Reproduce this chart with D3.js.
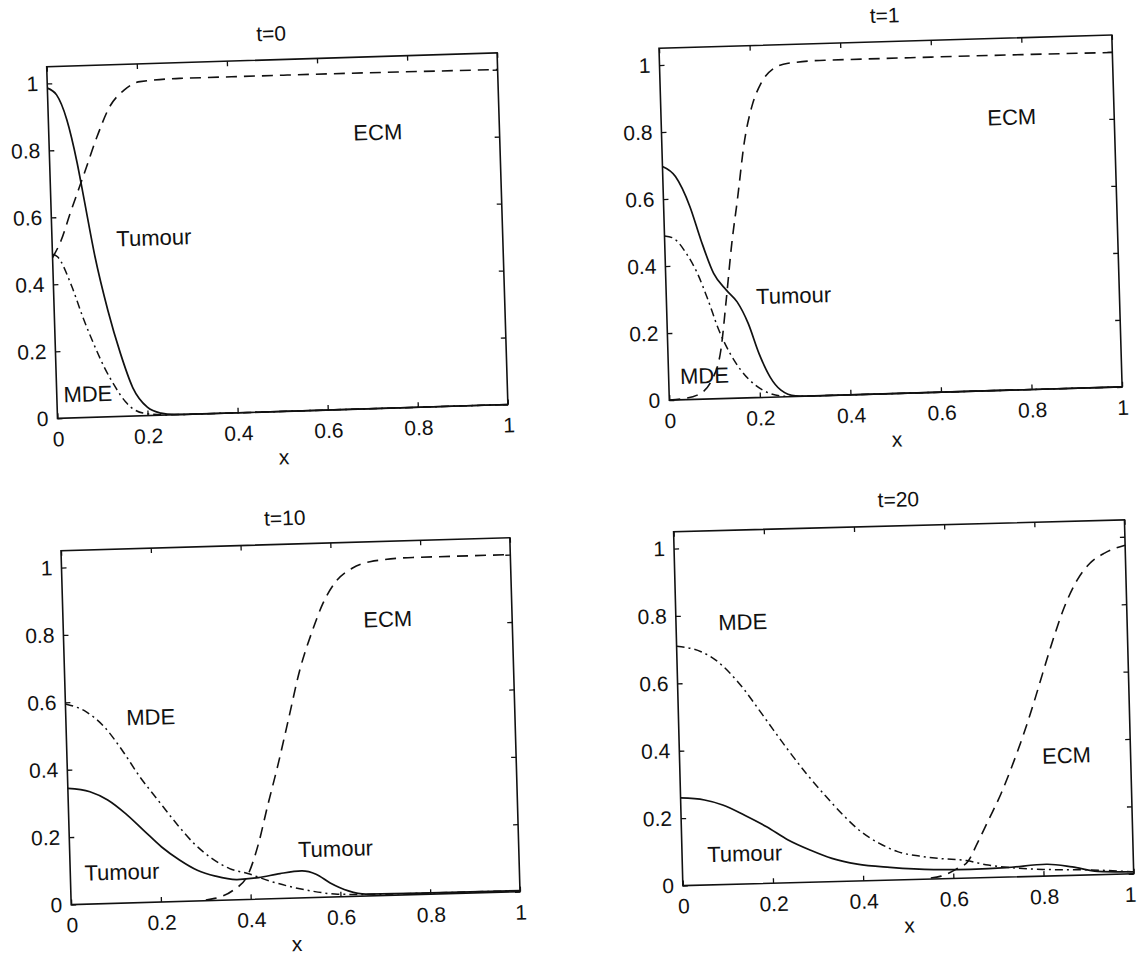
<!DOCTYPE html>
<html>
<head>
<meta charset="utf-8">
<style>
  body { margin: 0; background: #fff; }
  svg { display: block; }
  .tick text, .lbl, .title, .xlab {
    font-family: "Liberation Sans", Arial, Helvetica, sans-serif;
    fill: #111;
  }
</style>
</head>
<body>
<div id="chart"></div>
<script src="https://d3js.org/d3.v7.min.js"></script>
<script>
  // values, [x, value]
  const titles = ['t=0', 't=1', 't=10', 't=20'];
  const tickValues = [0, 0.2, 0.4, 0.6, 0.8, 1];
  const tickLabels = ['0', '0.2', '0.4', '0.6', '0.8', '1'];

  // t=0
  const tumour0 = [[0,0.986],[0.02,0.965],[0.041,0.89],[0.061,0.76],[0.074,0.65],[0.094,0.48],[0.119,0.318],[0.144,0.188],[0.169,0.085],[0.2,0.025],[0.23,0.006],[0.26,0.001],[0.3,0],[1,0]];
  const mde0 = [[0,0.49],[0.011,0.482],[0.041,0.391],[0.063,0.30],[0.085,0.22],[0.107,0.149],[0.13,0.089],[0.152,0.043],[0.19,0.008],[0.25,0],[1,0]];
  const ecm0 = [[0,0.48],[0.02,0.53],[0.042,0.61],[0.076,0.728],[0.107,0.837],[0.137,0.925],[0.17,0.973],[0.206,0.997],[0.294,1.003],[0.533,1.003],[1,1.0]];

  // t=1
  const tumour1 = [[0,0.697],[0.028,0.666],[0.058,0.575],[0.08,0.475],[0.106,0.374],[0.133,0.323],[0.156,0.287],[0.179,0.222],[0.201,0.131],[0.224,0.06],[0.247,0.02],[0.279,0.002],[0.32,0],[1,0]];
  const mde1 = [[0,0.49],[0.02,0.482],[0.047,0.436],[0.07,0.376],[0.092,0.295],[0.114,0.204],[0.137,0.134],[0.16,0.083],[0.191,0.037],[0.223,0.011],[0.26,0.001],[0.3,0],[1,0]];
  const ecm1 = [[0,0],[0.03,0.003],[0.062,0.0125],[0.095,0.056],[0.117,0.145],[0.132,0.293],[0.148,0.462],[0.163,0.59],[0.183,0.769],[0.201,0.868],[0.223,0.937],[0.252,0.98],[0.284,0.994],[0.365,1.0],[0.6,1.0],[1,0.998]];

  // t=10
  const tumour10 = [[0,0.345],[0.049,0.333],[0.088,0.307],[0.127,0.265],[0.166,0.214],[0.205,0.163],[0.244,0.123],[0.283,0.091],[0.323,0.072],[0.371,0.06],[0.419,0.064],[0.467,0.074],[0.515,0.08],[0.547,0.069],[0.578,0.042],[0.618,0.017],[0.657,0.006],[0.8,0.004],[1,0.003]];
  const mde10 = [[0,0.595],[0.046,0.57],[0.085,0.524],[0.123,0.454],[0.161,0.373],[0.2,0.302],[0.239,0.232],[0.277,0.171],[0.316,0.125],[0.355,0.093],[0.395,0.077],[0.443,0.053],[0.49,0.034],[0.538,0.019],[0.594,0.008],[0.7,0.004],[1,0.003]];
  const ecm10 = [[0.3,0.002],[0.32,0.006],[0.362,0.029],[0.395,0.072],[0.421,0.165],[0.443,0.273],[0.47,0.40],[0.497,0.538],[0.524,0.676],[0.555,0.793],[0.58,0.872],[0.61,0.935],[0.647,0.973],[0.687,0.991],[0.783,1.0],[1,1.0]];

  // t=20
  const tumour20 = [[0,0.26],[0.053,0.252],[0.093,0.236],[0.141,0.204],[0.189,0.168],[0.236,0.127],[0.284,0.0955],[0.332,0.069],[0.388,0.05],[0.46,0.038],[0.557,0.028],[0.638,0.026],[0.718,0.028],[0.807,0.035],[0.864,0.025],[0.92,0.01],[1,0.006]];
  const mde20 = [[0,0.71],[0.054,0.692],[0.086,0.666],[0.117,0.626],[0.148,0.575],[0.179,0.515],[0.21,0.454],[0.241,0.394],[0.28,0.323],[0.32,0.257],[0.359,0.197],[0.398,0.146],[0.438,0.11],[0.478,0.084],[0.526,0.069],[0.574,0.06],[0.63,0.052],[0.678,0.037],[0.719,0.029],[0.8,0.02],[0.9,0.015],[1,0.006]];
  const ecm20 = [[0.55,0.003],[0.573,0.008],[0.606,0.027],[0.634,0.051],[0.655,0.102],[0.681,0.17],[0.711,0.249],[0.736,0.327],[0.762,0.415],[0.788,0.513],[0.81,0.602],[0.837,0.709],[0.862,0.797],[0.892,0.876],[0.921,0.924],[0.954,0.953],[1,0.975]];

  // curve labels: [text, x, value]
  const labels0 = [['ECM',0.73,0.825],['Tumour',0.226,0.531],['MDE',0.069,0.071]];
  const labels1 = [['ECM',0.774,0.815],['Tumour',0.281,0.302],['MDE',0.079,0.071]];
  const labels10 = [['ECM',0.723,0.82],['MDE',0.189,0.55],['Tumour',0.115,0.093],['Tumour',0.592,0.144]];
  const labels20 = [['MDE',0.148,0.778],['ECM',0.858,0.357],['Tumour',0.139,0.091]];

  // scanned page is slightly tilted, each panel gets its own frame
  const panels = [
    { left: 46.7, top: 66.7, w: 450.6, h: 351.8, rot: -1.76, tumour: tumour0, mde: mde0, ecm: ecm0, labels: labels0 },
    { left: 659, top: 48.3, w: 453, h: 352, rot: -1.68, tumour: tumour1, mde: mde1, ecm: ecm1, labels: labels1 },
    { left: 61, top: 550.7, w: 449, h: 354, rot: -1.65, tumour: tumour10, mde: mde10, ecm: ecm10, labels: labels10 },
    { left: 673.6, top: 531.7, w: 451, h: 354, rot: -1.5, tumour: tumour20, mde: mde20, ecm: ecm20, labels: labels20 }
  ];

  const ink = '#111';
  const fontSize = 21;

  const svg = d3.select('#chart')
    .append('svg')
    .attr('width', 1137)
    .attr('height', 956);

  svg.append('rect').attr('width', 1137).attr('height', 956).attr('fill', '#fff');

  panels.forEach((p, i) => {
    const g = svg.append('g')
      .attr('transform', `translate(${p.left},${p.top}) rotate(${p.rot})`);

    const x = d3.scaleLinear().domain([0, 1]).range([0, p.w]);
    const y = d3.scaleLinear().domain([0, 1.05]).range([p.h, 0]);

    const fmt = (d) => tickLabels[tickValues.indexOf(d)];

    // axes with inward ticks on all four sides
    const bottom = g.append('g')
      .attr('transform', `translate(0,${p.h})`)
      .call(d3.axisBottom(x).tickValues(tickValues).tickFormat(fmt)
        .tickSizeInner(-5).tickSizeOuter(0).tickPadding(13));
    g.append('g')
      .call(d3.axisLeft(y).tickValues(tickValues).tickFormat(fmt)
        .tickSizeInner(-5).tickSizeOuter(0).tickPadding(9));
    g.append('g')
      .call(d3.axisTop(x).tickValues(tickValues).tickFormat('')
        .tickSizeInner(-5).tickSizeOuter(0));
    g.append('g')
      .attr('transform', `translate(${p.w},0)`)
      .call(d3.axisRight(y).tickValues(tickValues).tickFormat('')
        .tickSizeInner(-5).tickSizeOuter(0));

    g.selectAll('.domain').remove();
    g.selectAll('.tick line').attr('stroke', ink).attr('stroke-width', 1.3);
    g.selectAll('.tick text').attr('font-size', fontSize).attr('fill', ink);

    // last panel sits against the page edge, keep its "1" inside
    if (i === 3) {
      bottom.selectAll('.tick text').filter((d) => d === 1).attr('dx', -4);
    }

    g.append('rect')
      .attr('width', p.w)
      .attr('height', p.h)
      .attr('fill', 'none')
      .attr('stroke', ink)
      .attr('stroke-width', 1.6);

    const line = d3.line()
      .x((d) => x(d[0]))
      .y((d) => y(d[1]))
      .curve(d3.curveMonotoneX);

    g.append('path')
      .datum(p.tumour)
      .attr('fill', 'none')
      .attr('stroke', ink)
      .attr('stroke-width', 1.7)
      .attr('d', line);

    g.append('path')
      .datum(p.ecm)
      .attr('fill', 'none')
      .attr('stroke', ink)
      .attr('stroke-width', 1.6)
      .attr('stroke-dasharray', '11,7')
      .attr('d', line);

    g.append('path')
      .datum(p.mde)
      .attr('fill', 'none')
      .attr('stroke', ink)
      .attr('stroke-width', 1.5)
      .attr('stroke-dasharray', '8,4,2,4')
      .attr('d', line);

    g.selectAll('.lbl')
      .data(p.labels)
      .join('text')
      .attr('class', 'lbl')
      .attr('x', (d) => x(d[1]))
      .attr('y', (d) => y(d[2]))
      .attr('dy', '0.36em')
      .attr('text-anchor', 'middle')
      .attr('font-size', 22)
      .text((d) => d[0]);

    g.append('text')
      .attr('class', 'title')
      .attr('x', p.w / 2)
      .attr('y', -19)
      .attr('text-anchor', 'middle')
      .attr('font-size', fontSize)
      .text(titles[i]);

    g.append('text')
      .attr('class', 'xlab')
      .attr('x', p.w / 2)
      .attr('y', p.h + 53)
      .attr('text-anchor', 'middle')
      .attr('font-size', fontSize)
      .text('x');
  });
</script>
</body>
</html>
